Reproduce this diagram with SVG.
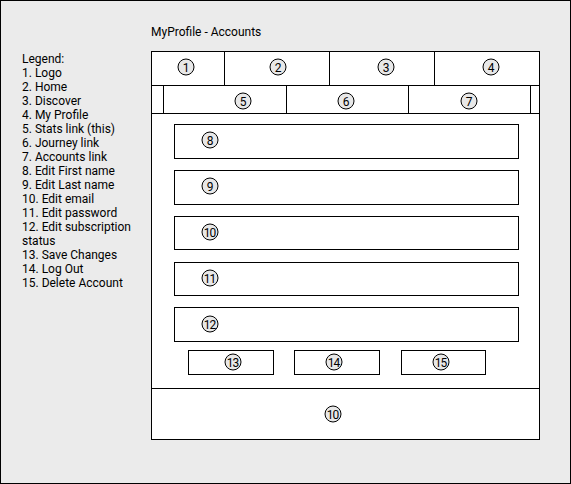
<svg xmlns="http://www.w3.org/2000/svg" width="571" height="484" viewBox="0 0 571 484">
<style>
.t{font-family:Roboto,"Liberation Sans",sans-serif;font-size:12px;fill:#000}
.b{fill:#fff;stroke:#000;stroke-width:1}
.n{fill:none;stroke:#000;stroke-width:1}
.c{fill:#e8e8e8;stroke:#000;stroke-width:1}
.d{font-family:Roboto,"Liberation Sans",sans-serif;font-size:12px;fill:#000;text-anchor:middle}
.d2{font-family:Roboto,"Liberation Sans",sans-serif;font-size:12px;fill:#000;text-anchor:middle;letter-spacing:-1px}
</style>
<rect x="0.5" y="0.5" width="570" height="483" fill="#ebebeb" stroke="#000"/>
<text class="t" x="151" y="36">MyProfile - Accounts</text>
<g id="legend">
<text class="t" x="22" y="63">Legend:</text>
<text class="t" x="22" y="77">1. Logo</text>
<text class="t" x="22" y="91">2. Home</text>
<text class="t" x="22" y="105">3. Discover</text>
<text class="t" x="22" y="119">4. My Profile</text>
<text class="t" x="22" y="133">5. Stats link (this)</text>
<text class="t" x="22" y="147">6. Journey link</text>
<text class="t" x="22" y="161">7. Accounts link</text>
<text class="t" x="22" y="175">8. Edit First name</text>
<text class="t" x="22" y="189">9. Edit Last name</text>
<text class="t" x="22" y="203">10. Edit email</text>
<text class="t" x="22" y="217">11. Edit password</text>
<text class="t" x="22" y="231">12. Edit subscription</text>
<text class="t" x="22" y="245">status</text>
<text class="t" x="22" y="259">13. Save Changes</text>
<text class="t" x="22" y="273">14. Log Out</text>
<text class="t" x="22" y="287">15. Delete Account</text>
</g>
<g id="frame">
<rect class="b" x="151.5" y="51.5" width="388" height="388"/>
<line class="n" x1="151" y1="85.5" x2="540" y2="85.5"/>
<line class="n" x1="151" y1="113.5" x2="540" y2="113.5"/>
<line class="n" x1="151" y1="388.5" x2="540" y2="388.5"/>
</g>
<g id="n1"><line class="n" x1="224.5" y1="52" x2="224.5" y2="85"/><circle class="c" cx="186" cy="67" r="8"/><text class="d" x="186" y="71.5">1</text></g>
<g id="n2"><line class="n" x1="329.5" y1="52" x2="329.5" y2="85"/><circle class="c" cx="278" cy="67" r="8"/><text class="d" x="278" y="71.5">2</text></g>
<g id="n3"><line class="n" x1="434.5" y1="52" x2="434.5" y2="85"/><circle class="c" cx="386" cy="67" r="8"/><text class="d" x="386" y="71.5">3</text></g>
<g id="n4"><circle class="c" cx="491" cy="67" r="8"/><text class="d" x="491" y="71.5">4</text></g>
<g id="n5"><line class="n" x1="163.5" y1="86" x2="163.5" y2="113"/><line class="n" x1="286.5" y1="86" x2="286.5" y2="113"/><circle class="c" cx="243" cy="101" r="8"/><text class="d" x="243" y="105.5">5</text></g>
<g id="n6"><line class="n" x1="408.5" y1="86" x2="408.5" y2="113"/><circle class="c" cx="346" cy="101" r="8"/><text class="d" x="346" y="105.5">6</text></g>
<g id="n7"><line class="n" x1="530.5" y1="86" x2="530.5" y2="113"/><circle class="c" cx="469" cy="101" r="8"/><text class="d" x="469" y="105.5">7</text></g>
<g id="n8"><rect class="b" x="174.5" y="124.5" width="344" height="34"/><circle class="c" cx="210" cy="140" r="8"/><text class="d" x="210" y="144.5">8</text></g>
<g id="n9"><rect class="b" x="174.5" y="170.5" width="344" height="34"/><circle class="c" cx="210" cy="186" r="8"/><text class="d" x="210" y="190.5">9</text></g>
<g id="n10"><rect class="b" x="174.5" y="216.5" width="344" height="33"/><circle class="c" cx="210" cy="232" r="8"/><text class="d2" x="209.5" y="236.5">10</text></g>
<g id="n11"><rect class="b" x="174.5" y="262.5" width="344" height="33"/><circle class="c" cx="210" cy="278" r="8"/><text class="d2" x="209.5" y="282.5">11</text></g>
<g id="n12"><rect class="b" x="174.5" y="307.5" width="344" height="34"/><circle class="c" cx="210" cy="324" r="8"/><text class="d2" x="209.5" y="328.5">12</text></g>
<g id="n13"><rect class="b" x="188.5" y="350.5" width="85" height="24"/><circle class="c" cx="233" cy="362" r="8"/><text class="d2" x="232.5" y="366.5">13</text></g>
<g id="n14"><rect class="b" x="294.5" y="350.5" width="85" height="24"/><circle class="c" cx="334" cy="362" r="8"/><text class="d2" x="333.5" y="366.5">14</text></g>
<g id="n15"><rect class="b" x="401.5" y="350.5" width="84" height="24"/><circle class="c" cx="441" cy="362" r="8"/><text class="d2" x="440.5" y="366.5">15</text></g>
<g id="footer"><circle class="c" cx="333" cy="414" r="8"/><text class="d2" x="332.5" y="418.5">10</text></g>
<g id="connectors"></g>
</svg>
